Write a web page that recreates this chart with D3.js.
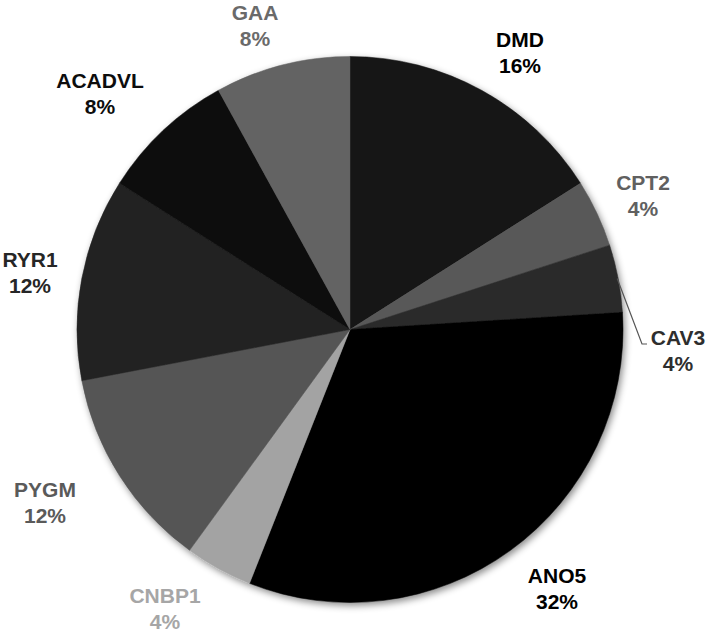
<!DOCTYPE html>
<html><head><meta charset="utf-8">
<script src="https://cdn.jsdelivr.net/npm/d3@7"></script>
<style>html,body{margin:0;padding:0;background:#fff}</style>
</head><body>
<script>
const genes = ["DMD","CPT2","CAV3","ANO5","CNBP1","PYGM","RYR1","ACADVL","GAA"];
const percents = [16,4,4,32,4,12,12,8,8];
const sliceColors = ["#141414","#595959","#2b2b2b","#000000","#a3a3a3","#555555","#222222","#111111","#636363"];
const labelColors = ["#000000","#606060","#2e2e2e","#000000","#a6a6a6","#5a5a5a","#262626","#0d0d0d","#6a6a6a"];
// label anchor positions (center x, baseline of first line)
const labelX = [520,643,678,557,165,45,30,100,255];
const labelY = [47,190,345,583,603,497,267,88,20];

const W=709,H=634, cx=350, cy=329.5, R=273;
const svg = d3.select("body").append("svg").attr("width",W).attr("height",H);
const defs = svg.append("defs");
const f = defs.append("filter").attr("id","sh").attr("x","-10%").attr("y","-10%").attr("width","120%").attr("height","120%");
f.append("feDropShadow").attr("dx",2).attr("dy",3).attr("stdDeviation",3.5).attr("flood-color","#000").attr("flood-opacity",0.45);

const data = genes.map((g,i)=>({gene:g,value:percents[i],i}));
const pie = d3.pie().sort(null).value(d=>d.value);
const arc = d3.arc().innerRadius(0).outerRadius(R);
const g = svg.append("g").attr("transform",`translate(${cx},${cy})`);
const arcs = pie(data);
const shadowG = g.append("g").attr("filter","url(#sh)");
shadowG.selectAll("path").data(arcs).join("path")
  .attr("d",arc).attr("fill",d=>sliceColors[d.data.i]).attr("stroke",d=>sliceColors[d.data.i]).attr("stroke-width",0.5);

// leader line for CAV3
const cav = arcs[2];
const mid = (cav.startAngle+cav.endAngle)/2;
const p0 = [Math.sin(mid)*(R-1), -Math.cos(mid)*(R-1)];
svg.append("polyline")
  .attr("points",[[cx+p0[0],cy+p0[1]],[642,344],[647,344]].map(p=>p.join(",")).join(" "))
  .attr("fill","none").attr("stroke","#555").attr("stroke-width",1.2);

const lab = svg.append("g").attr("font-family","'Liberation Sans', Arial, sans-serif").attr("font-weight","bold").attr("font-size",21).attr("text-anchor","middle");
data.forEach((d,i)=>{
  const t = lab.append("text").attr("fill",labelColors[i]);
  t.append("tspan").attr("x",labelX[i]).attr("y",labelY[i]).text(d.gene);
  t.append("tspan").attr("x",labelX[i]).attr("y",labelY[i]+25.5).text(d.value+"%");
});
</script>
</body></html>
